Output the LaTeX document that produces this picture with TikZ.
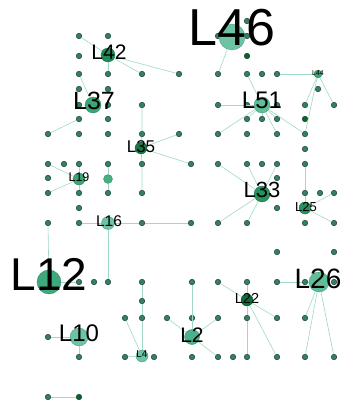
\documentclass[tikz,border=0pt]{standalone}
\usepackage{fontspec}
\setmainfont{Liberation Sans}
\usepackage{tikz}
\usetikzlibrary{positioning}
\definecolor{dotgreen}{HTML}{357F62}
\definecolor{dotdark}{HTML}{1A3F31}
\definecolor{deepgreen}{HTML}{0F5F33}
\definecolor{edgegreen}{HTML}{9FD9C3}
\definecolor{paleg}{HTML}{6CC4A2}
\definecolor{lightg}{HTML}{5DBE98}
\definecolor{midg}{HTML}{3BA577}
\definecolor{darkg}{HTML}{1F8A55}
\definecolor{forestg}{HTML}{0F6B3A}
\tikzset{
  dot/.style={circle, inner sep=0pt, minimum size=5.5pt, fill=dotgreen, draw=dotdark, line width=0.5pt},
  darkdot/.style={circle, inner sep=0pt, minimum size=5.5pt, fill=deepgreen, draw=deepgreen!70!black, line width=0.5pt},
  hub/.style 2 args={circle, inner sep=0pt, minimum size=#2, fill=#1, draw=#1!75!black, line width=0.3pt},
  lab/.style={inner sep=0pt, text=black, font=\fontsize{#1}{#1}\selectfont},
  edge/.style={draw=edgegreen, line width=0.6pt},
}

\begin{document}
\begin{tikzpicture}[x=1pt, y=-1pt]
        \useasboundingbox (0,0) rectangle (344,404);
        % small vertices
        \foreach \x/\y in {247/21, 79/36, 108/36, 218/36, 247/36, 79/56,
            79/74, 108/74, 142/74, 179/74, 218/74, 247/74, 262/74, 277/74,
            79/89, 108/89, 318/89,
            79/105, 108/105, 142/105, 218/105, 247/105, 277/105, 305/105, 334/105,
            79/119, 108/119, 247/119, 262/119, 277/119,
            48/134, 79/134, 108/134, 142/134, 179/134, 218/134, 247/134, 277/134, 305/134,
            305/149,
            48/164, 64/164, 79/164, 108/164, 142/164, 191/164, 218/164, 247/164, 262/164, 277/164, 305/164,
            48/178, 277/178,
            48/193, 79/193, 108/193, 142/193, 305/193, 320/193, 334/193,
            79/208, 277/208,
            48/223, 79/223, 142/223, 191/223, 218/223, 247/223, 305/223, 334/223,
            277/252, 334/252,
            79/282, 94/282, 108/282, 142/282, 192/282, 218/282, 247/282, 277/282, 305/282, 334/282,
            142/301,
            125/318, 142/318, 167/318, 192/318, 218/318, 247/318, 277/318, 305/318,
            48/337,
            79/357, 125/357, 154/357, 192/357, 218/357, 233/357, 247/357, 277/357, 305/357, 334/357,
            48/397}
          \node[dot] (p\x-\y) at (\x,\y) {};
        \node[darkdot] (d247-56) at (247,56) {};
        \node[darkdot] (d305-119) at (305,119) {};
        \node[darkdot] (d79-397) at (79,397) {};
        % labelled vertices
        \node[hub={paleg}{26pt}] (h46) at (232,37) {};
        \node[hub={darkg}{14pt}] (h42) at (108,55) {};
        \node[hub={midg}{16pt}] (h37) at (93,105) {};
        \node[hub={lightg}{16pt}] (h51) at (262,105) {};
        \node[hub={midg}{8pt}] (h44) at (318,74) {};
        \node[hub={forestg!85!lightg}{12pt}] (h35) at (141,148) {};
        \node[hub={midg}{12pt}] (h19) at (79,179) {};
        \node[hub={midg!70!paleg}{9pt}] (h9) at (108,179) {};
        \node[hub={paleg}{13pt}] (h16) at (108,223) {};
        \node[hub={darkg!70!midg}{16pt}] (h33) at (262,194) {};
        \node[hub={darkg!70!midg}{12pt}] (h25) at (305,208) {};
        \node[hub={midg!85!lightg}{24pt}] (h12) at (49,282) {};
        \node[hub={lightg}{20pt}] (h26) at (319,282) {};
        \node[hub={forestg}{12pt}] (h22) at (247,300) {};
        \node[hub={paleg}{18pt}] (h10) at (79,337) {};
        \node[hub={midg!50!lightg}{15pt}] (h2) at (192,337) {};
        \node[hub={paleg}{12pt}] (h4) at (142,356) {};
        % edges
        \draw[edge] (p79-36) -- (h42);
        \draw[edge] (h42) -- (p179-74); \draw[edge] (h42) -- (p108-74); \draw[edge] (h42) -- (p142-74);
        \draw[edge] (p79-74) -- (h37);
        \draw[edge] (p79-119) -- (p48-134);
        \draw[edge] (p142-105) -- (p142-134) -- (h35) -- (p142-164) -- (p142-193);
        \draw[edge] (h35) -- (p179-134); \draw[edge] (h35) -- (p191-164);
        \draw[edge] (h46) -- (p218-74);
        \draw[edge] (p247-74) -- (h51); \draw[edge] (p218-105) -- (h51);
        \draw[edge] (h51) -- (p247-119); \draw[edge] (h51) -- (p262-119); \draw[edge] (h51) -- (p277-119);
        \draw[edge] (h51) -- (p218-134); \draw[edge] (h51) -- (p277-134); \draw[edge] (h51) -- (p305-134);
        \draw[edge] (p277-74) -- (h44);
        \draw[edge] (h44) -- (p334-105); \draw[edge] (h44) -- (p305-105); \draw[edge] (h44) -- (p305-134);
        \draw[edge] (p48-164) -- (h19); \draw[edge] (h19) -- (p48-193);
        \draw[edge] (p79-164) -- (h19) -- (p79-193);
        \draw[edge] (p108-164) -- (h9) -- (p108-193);
        \draw[edge] (p305-164) -- (p305-193) -- (h25);
        \draw[edge] (h25) -- (p334-193); \draw[edge] (h25) -- (p334-223);
        \draw[edge] (h33) -- (p218-164); \draw[edge] (h33) -- (p247-164); \draw[edge] (h33) -- (p277-164);
        \draw[edge] (h33) -- (p218-223); \draw[edge] (h33) -- (p247-223);
        \draw[edge] (p79-223) -- (h16) -- (p142-223) -- (p191-223);
        \draw[edge] (h16) -- (p108-282);
        \draw[edge] (p48-223) -- (h12); \draw[edge] (h12) -- (p79-282);
        \draw[edge] (p142-282) -- (p142-301) -- (p142-318) -- (h4);
        \draw[edge] (p125-318) -- (h4); \draw[edge] (p125-357) -- (h4);
        \draw[edge] (p48-337) -- (h10) -- (p79-357);
        \draw[edge] (p48-397) -- (d79-397);
        \draw[edge] (p167-318) -- (h2); \draw[edge] (p192-282) -- (h2);
        \draw[edge] (h2) -- (p218-318); \draw[edge] (h2) -- (p218-357);
        \draw[edge] (p218-282) -- (h22); \draw[edge] (p247-282) -- (h22) -- (p247-318) -- (p247-357);
        \draw[edge] (h22) -- (p277-318); \draw[edge] (h22) -- (p277-357);
        \draw[edge] (p277-282) -- (p305-282) -- (h26);
        \draw[edge] (h26) -- (p305-318); \draw[edge] (h26) -- (p305-357); \draw[edge] (h26) -- (p334-357);
        % labels
        \node[lab=52] (t46) at (232,28) {L46};
        \node[lab=21] (t42) at (109,52) {L42};
        \node[lab=25] (t37) at (94,101) {L37};
        \node[lab=24] (t51) at (262,100) {L51};
        \node[lab=7] (t44) at (318,73) {L44};
        \node[lab=17] (t35) at (141,147) {L35};
        \node[lab=12.5] (t19) at (79,177) {L19};
        \node[lab=15.5] (t16) at (109,221) {L16};
        \node[lab=22] (t33) at (262,190) {L33};
        \node[lab=13] (t25) at (306,207) {L25};
        \node[lab=46] (t12) at (49,274) {L12};
        \node[lab=28] (t26) at (318,279) {L26};
        \node[lab=14.5] (t22) at (247,298) {L22};
        \node[lab=24] (t10) at (79,333) {L10};
        \node[lab=21] (t2) at (192,335) {L2};
        \node[lab=10] (t4) at (142,354) {L4};
      \end{tikzpicture}
\end{document}
